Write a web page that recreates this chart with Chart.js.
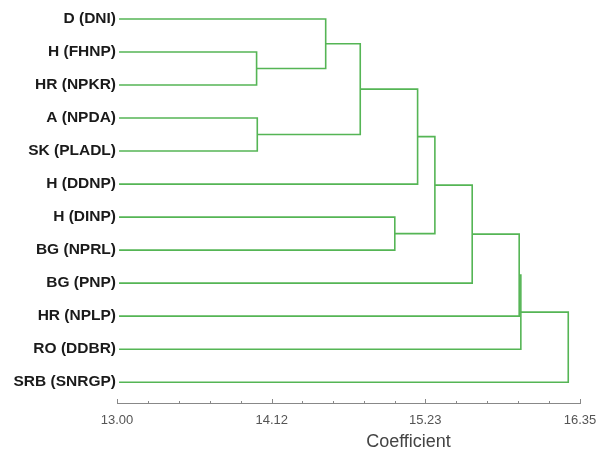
<!DOCTYPE html>
<html>
<head>
<meta charset="utf-8">
<script src="https://cdn.jsdelivr.net/npm/chart.js@4.4.1/dist/chart.umd.min.js"></script>
<style>
  html, body { margin: 0; padding: 0; background: #fff; }
  #wrap { width: 600px; height: 449px; }
</style>
</head>
<body>
<div id="wrap"><canvas id="dendro"></canvas></div>
<script>
// leaves, top to bottom
var leafLabels = ['D (DNI)', 'H (FHNP)', 'HR (NPKR)', 'A (NPDA)', 'SK (PLADL)', 'H (DDNP)',
                  'H (DINP)', 'BG (NPRL)', 'BG (PNP)', 'HR (NPLP)', 'RO (DDBR)', 'SRB (SNRGP)'];
var leafStart = 13.015;
// merges: node ids (0-11 leaves, 12+ clusters in merge order) and the coefficient they join at
var mergeA = [1, 3, 0, 14, 15, 6, 16, 18, 19, 20, 21];
var mergeB = [2, 4, 12, 13, 5, 7, 17, 8, 9, 10, 11];
var mergeHeight = [14.01, 14.015, 14.51, 14.76, 15.175, 15.01, 15.30, 15.57, 15.91, 15.922, 16.265];
var axisTicks = [13.00, 14.12, 15.23, 16.35];

var lineColor = '#55b555';

var nodeX = [], nodeY = [];
leafLabels.forEach(function(l, i) {
    nodeX.push(leafStart);
    nodeY.push(i);
});
var datasets = [];
mergeHeight.forEach(function(h, k) {
    var a = mergeA[k], b = mergeB[k];
    datasets.push({
        data: [
            {x: nodeX[a], y: nodeY[a]},
            {x: h, y: nodeY[a]},
            {x: h, y: nodeY[b]},
            {x: nodeX[b], y: nodeY[b]}
        ],
        showLine: true,
        borderColor: lineColor,
        borderWidth: 1.6,
        pointRadius: 0,
        tension: 0,
        borderJoinStyle: 'miter'
    });
    nodeX.push(h);
    nodeY.push((nodeY[a] + nodeY[b]) / 2);
});

// small upward tick marks + axis title
var axisExtras = {
    id: 'axisExtras',
    afterDraw: function(chart) {
        var ctx = chart.ctx;
        var xs = chart.scales.x;
        var yLine = chart.chartArea.bottom;
        ctx.save();
        ctx.strokeStyle = '#888';
        ctx.lineWidth = 1;
        for (var i = 0; i < axisTicks.length; i++) {
            var px = Math.round(xs.getPixelForValue(axisTicks[i])) + 0.5;
            ctx.beginPath();
            ctx.moveTo(px, yLine);
            ctx.lineTo(px, yLine - 4);
            ctx.stroke();
            if (i < axisTicks.length - 1) {
                for (var m = 1; m < 5; m++) {
                    var v = axisTicks[i] + (axisTicks[i + 1] - axisTicks[i]) * m / 5;
                    var mx = Math.round(xs.getPixelForValue(v)) + 0.5;
                    ctx.beginPath();
                    ctx.moveTo(mx, yLine);
                    ctx.lineTo(mx, yLine - 2);
                    ctx.stroke();
                }
            }
        }
        ctx.fillStyle = '#444';
        ctx.font = '18px "Liberation Sans", Arial, sans-serif';
        ctx.textAlign = 'center';
        ctx.textBaseline = 'middle';
        ctx.fillText('Coefficient', (chart.chartArea.left + chart.chartArea.right) / 2 + 60, yLine + 39);
        ctx.restore();
    }
};

var ctx = document.getElementById('dendro').getContext('2d');
var chart = new Chart(ctx, {
    type: 'scatter',
    data: { datasets: datasets },
    plugins: [axisExtras],
    options: {
        responsive: true,
        maintainAspectRatio: false,
        animation: false,
        layout: { padding: { top: 0, right: 20, bottom: 0, left: 0 } },
        plugins: {
            legend: { display: false },
            tooltip: { enabled: false }
        },
        scales: {
            x: {
                type: 'linear',
                position: 'bottom',
                min: 13,
                max: 16.35,
                afterBuildTicks: function(s) {
                    s.ticks = axisTicks.map(function(v) { return {value: v}; });
                },
                afterFit: function(s) {
                    s.height = 46;
                    s.paddingLeft = 0;
                    s.paddingRight = 0;
                },
                ticks: {
                    callback: function(v) { return v.toFixed(2); },
                    color: '#555',
                    font: { family: '"Liberation Sans", Arial, sans-serif', size: 13 },
                    padding: 10,
                    maxRotation: 0
                },
                grid: { display: true, drawOnChartArea: false, drawTicks: false },
                border: { display: true, color: '#888', width: 1 }
            },
            y: {
                type: 'linear',
                reverse: true,
                min: -0.575,
                max: 11.63,
                afterBuildTicks: function(s) {
                    s.ticks = leafLabels.map(function(l, i) { return {value: i}; });
                },
                afterFit: function(s) {
                    s.width = 117;
                    s.paddingTop = 0;
                    s.paddingBottom = 0;
                },
                ticks: {
                    callback: function(v) { return leafLabels[v]; },
                    color: '#1a1a1a',
                    font: { family: '"Liberation Sans", Arial, sans-serif', size: 15.5, weight: 'bold' },
                    padding: 1
                },
                grid: { display: false, drawTicks: false },
                border: { display: false }
            }
        }
    }
});
</script>
</body>
</html>
